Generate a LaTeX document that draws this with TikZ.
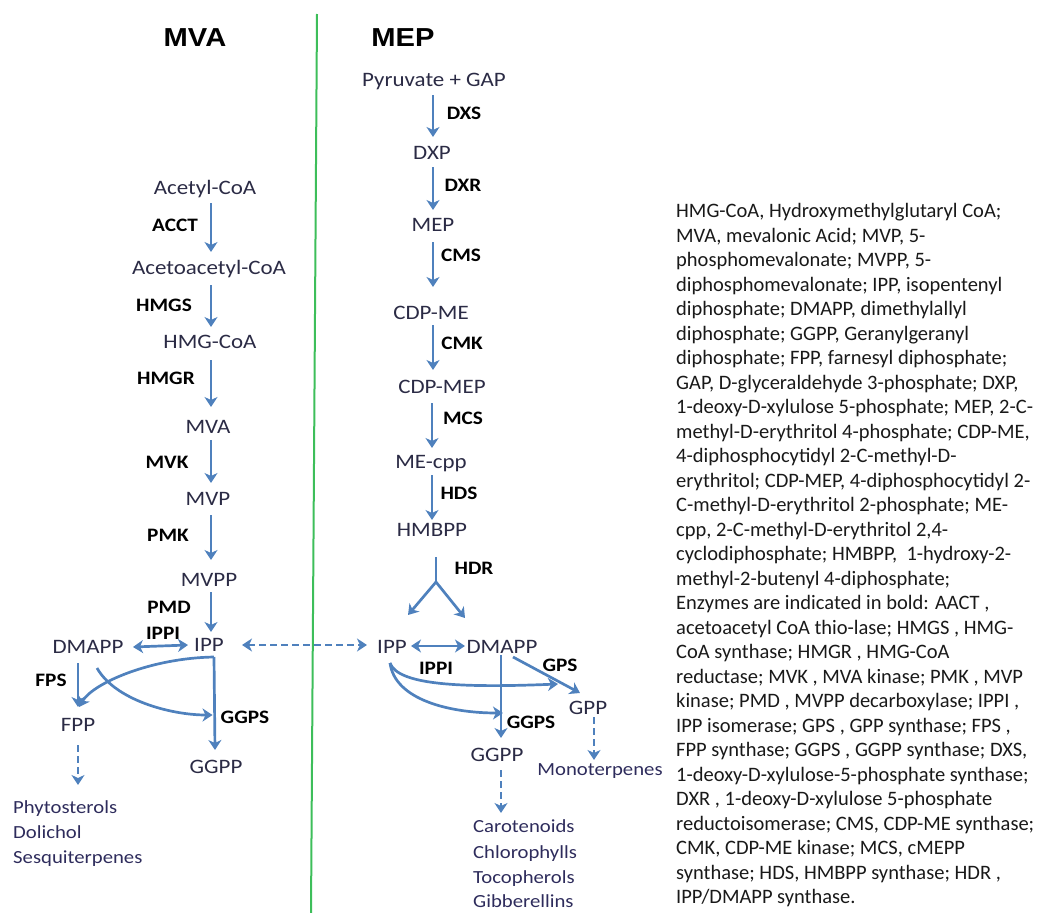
\documentclass[tikz,border=0pt]{standalone}
\usepackage{fontspec}
\usetikzlibrary{arrows.meta,calc}
\newfontfamily\labfont{Carlito}[FakeStretch=1.12]
\newfontfamily\titlefont{Liberation Sans}[FakeStretch=1.12]
\newfontfamily\bodyfont{Carlito}
\definecolor{arrowblue}{HTML}{4F81BD}
\definecolor{labtext}{HTML}{2B2B45}
\definecolor{prodtext}{HTML}{2E2C5C}
\definecolor{sepgreen}{HTML}{3DBE5A}
\begin{document}
\begin{tikzpicture}[x=1pt,y=-1pt,
 met/.style={font=\labfont\fontsize{20.5}{24}\selectfont, text=labtext, inner sep=0pt, text height=13pt, text depth=0pt},
 enz/.style={font=\labfont\bfseries\fontsize{19}{22}\selectfont, text=black, inner sep=0pt, text height=12pt, text depth=0pt},
 ttl/.style={font=\titlefont\bfseries\fontsize{26}{30}\selectfont, text=black, inner sep=0pt, text height=18.6pt, text depth=0pt},
 prod/.style={font=\labfont\fontsize{18.5}{22}\selectfont, text=prodtext, inner sep=0pt, text height=11.7pt, text depth=0pt, anchor=west},
 body/.style={font=\bodyfont\fontsize{20.5}{24.5}\selectfont, text=black!90, inner sep=0pt, anchor=base west},
 tipshape/.style={},
 arr/.style={draw=arrowblue, line width=2.7pt, -{Stealth[length=10pt,width=13pt,inset=3pt]}},
 darr/.style={draw=arrowblue, line width=2.7pt, {Stealth[length=10pt,width=13pt,inset=3pt]}-{Stealth[length=10pt,width=13pt,inset=3pt]}},
 dasharr/.style={arr, dash pattern=on 7pt off 4pt},
 ddasharr/.style={darr, dash pattern=on 7pt off 4pt},
 plain/.style={draw=arrowblue, line width=2.7pt},
]
\useasboundingbox (0,0) rectangle (1037,913);

% titles and separator
\node[ttl] (mvatitle) at (195,37) {MVA};
\node[ttl] (meptitle) at (403,37) {MEP};
\coordinate (septop) at (317,14);
\coordinate (sepbot) at (311,913);
\draw[sepgreen, line width=2pt] (septop) -- (sepbot);

% ---------------- MVA pathway ----------------
\node[met] (acetyl) at (205,188) {Acetyl-CoA};
\node[met] (acetoacetyl) at (209,268) {Acetoacetyl-CoA};
\node[met] (hmgcoa) at (210,342) {HMG-CoA};
\node[met] (mva) at (208,427) {MVA};
\node[met] (mvp) at (208,499) {MVP};
\node[met] (mvpp) at (209,580) {MVPP};
\node[met] (ippL) at (209,645) {IPP};
\node[met] (dmappL) at (88,647) {DMAPP};
\node[met] (fppL) at (78,725) {FPP};
\node[met] (ggppL) at (216,767) {GGPP};

\node[enz] (acct) at (175,225) {ACCT};
\node[enz] (hmgs) at (164,305) {HMGS};
\node[enz] (hmgr) at (166,378) {HMGR};
\node[enz] (mvk) at (167,462) {MVK};
\node[enz] (pmk) at (168,535) {PMK};
\node[enz] (pmd) at (169,607) {PMD};
\node[enz] (ippiL) at (163,633) {IPPI};
\node[enz] (fps) at (51,680) {FPS};
\node[enz] (ggpsL) at (245,717) {GGPS};

\draw[arr] ($(acetyl)+(6,15)$) -- ($(acetoacetyl)+(2,-16)$);
\draw[arr] ($(acetoacetyl)+(2,17)$) -- ($(hmgcoa)+(1,-15)$);
\draw[arr] ($(hmgcoa)+(1,18)$) -- ($(mva)+(3,-20)$);
\draw[arr] ($(mva)+(3,13)$) -- ($(mvp)+(3,-16)$);
\draw[arr] ($(mvp)+(3,16)$) -- ($(mvpp)+(2,-20)$);
\draw[arr] ($(mvpp)+(2,12)$) -- ($(ippL)+(2,-13)$);
\draw[darr] ($(dmappL)+(45,0)$) -- ($(ippL)+(-21,0)$);
\draw[arr] ($(dmappL)+(-10,16)$) -- ($(fppL)+(0,-18)$);
\coordinate (ippLout) at ($(ippL)+(5,12)$);
\draw[arr] (ippLout) .. controls ($(ippLout)+(-63,1)$) and ($(fppL)+(15,-42)$) .. ($(fppL)+(1,-18)$);
\draw[arr] (ippLout) -- ($(ggppL)+(-1,-17)$);
\draw[arr] ($(dmappL)+(9,21)$) .. controls ($(dmappL)+(27,53)$) and ($(ggpsL.west)+(-50,-2)$) .. ($(ggpsL.west)+(-8,-2)$);
\draw[dasharr] ($(fppL)+(0,20)$) -- ($(fppL)+(0,60)$);

\node[prod] (phyto) at (13,808) {Phytosterols};
\node[prod] (dolichol) at (13,833) {Dolichol};
\node[prod] (sesqui) at (13,858) {Sesquiterpenes};

% ---------------- MEP pathway ----------------
\node[met] (pyrgap) at (434,80) {Pyruvate + GAP};
\node[met] (dxp) at (432,153) {DXP};
\node[met] (mep) at (433,225) {MEP};
\node[met] (cdpme) at (431,313) {CDP-ME};
\node[met] (cdpmep) at (442,387) {CDP-MEP};
\node[met] (mecpp) at (431,462) {ME-cpp};
\node[met] (hmbpp) at (432,530) {HMBPP};
\node[met] (ippR) at (392,647) {IPP};
\node[met] (dmappR) at (502,647) {DMAPP};
\node[met] (gppR) at (588,708) {GPP};
\node[met] (ggppR) at (497,755) {GGPP};

\node[enz] (dxs) at (464,113) {DXS};
\node[enz] (dxr) at (463,185) {DXR};
\node[enz] (cms) at (461,255) {CMS};
\node[enz] (cmk) at (462,343) {CMK};
\node[enz] (mcs) at (463,418) {MCS};
\node[enz] (hds) at (459,493) {HDS};
\node[enz] (hdr) at (474,568) {HDR};
\node[enz] (ippiR) at (436,668) {IPPI};
\node[enz] (gps) at (560,665) {GPS};
\node[enz] (ggpsR) at (531,722) {GGPS};

\draw[arr] ($(pyrgap)+(-1,15)$) -- ($(dxp)+(1,-16)$);
\draw[arr] ($(dxp)+(1,14)$) -- ($(mep)+(0,-15)$);
\draw[arr] ($(mep)+(0,17)$) -- ($(cdpme)+(2,-26)$);
\draw[arr] ($(cdpme)+(2,12)$) -- ($(cdpmep)+(-9,-17)$);
\draw[arr] ($(cdpmep)+(-10,16)$) -- ($(mecpp)+(1,-14)$);
\draw[arr] ($(mecpp)+(1,13)$) -- ($(hmbpp)+(0,-10)$);
\coordinate (fork) at ($(hmbpp)+(4,52)$);
\draw[plain] ($(hmbpp)+(4,27)$) -- (fork);
\draw[arr] (fork) -- ($(ippR)+(16,-32)$);
\draw[arr] (fork) -- ($(dmappR)+(-37,-29)$);
\draw[darr] ($(ippR)+(19,-1)$) -- ($(dmappR)+(-37,-1)$);
\draw[arr] ($(dmappR)+(-1,8)$) -- ($(ggppR)+(4,-17)$);
\draw[arr] ($(dmappR)+(11,10)$) -- ($(gppR)+(-8,-15)$);
\coordinate (ippRout) at ($(ippR)+(-2,16)$);
\draw[arr] (ippRout) .. controls ($(ippRout)+(8,22)$) and ($(gppR)+(-128,-20)$) .. ($(gppR)+(-30,-24)$);
\draw[arr] (ippRout) .. controls ($(ippRout)+(5,37)$) and ($(ggppR)+(-47,-42)$) .. ($(ggppR)+(6,-42)$);
\draw[dasharr] ($(gppR)+(6,9)$) -- ($(gppR)+(6,52)$);
\draw[dasharr] ($(ggppR)+(4,15)$) -- ($(ggppR)+(4,58)$);
\draw[ddasharr] ($(ippL)+(33,0)$) -- ($(ippR)+(-25,-2)$);

\node[prod, anchor=center] (mono) at (600,770) {Monoterpenes};
\node[prod] (carot) at (473,827) {Carotenoids};
\node[prod] (chloro) at (473,853) {Chlorophylls};
\node[prod] (toco) at (473,878) {Tocopherols};
\node[prod] (gibb) at (473,902) {Gibberellins};

% ---------------- legend text ----------------
\foreach \txt [count=\i] in {
 {HMG-CoA, Hydroxymethylglutaryl CoA;},
 {MVA, mevalonic Acid; MVP, 5-},
 {phosphomevalonate; MVPP, 5-},
 {diphosphomevalonate; IPP, isopentenyl},
 {diphosphate; DMAPP, dimethylallyl},
 {diphosphate; GGPP, Geranylgeranyl},
 {diphosphate; FPP, farnesyl diphosphate;},
 {GAP, D-glyceraldehyde 3-phosphate; DXP,},
 {1-deoxy-D-xylulose 5-phosphate; MEP, 2-C-},
 {methyl-D-erythritol 4-phosphate; CDP-ME,},
 {4-diphosphocytidyl 2-C-methyl-D-},
 {erythritol; CDP-MEP, 4-diphosphocytidyl 2-},
 {C-methyl-D-erythritol 2-phosphate; ME-},
 {cpp, 2-C-methyl-D-erythritol 2,4-},
 {cyclodiphosphate; HMBPP,\ \ 1-hydroxy-2-},
 {methyl-2-butenyl 4-diphosphate;},
 {Enzymes are indicated in bold: AACT ,},
 {acetoacetyl CoA thio-lase; HMGS , HMG-},
 {CoA synthase; HMGR , HMG-CoA},
 {reductase; MVK , MVA kinase; PMK , MVP},
 {kinase; PMD , MVPP decarboxylase; IPPI ,},
 {IPP isomerase; GPS , GPP synthase; FPS ,},
 {FPP synthase; GGPS , GGPP synthase; DXS,},
 {1-deoxy-D-xylulose-5-phosphate synthase;},
 {DXR , 1-deoxy-D-xylulose 5-phosphate},
 {reductoisomerase; CMS, CDP-ME synthase;},
 {CMK, CDP-ME kinase; MCS, cMEPP},
 {synthase; HDS, HMBPP synthase; HDR ,},
 {IPP/DMAPP synthase.}}
 \node[body] (note\i) at (676,{217.5+24.5*(\i-1)}) {\txt};
\end{tikzpicture}
\end{document}
